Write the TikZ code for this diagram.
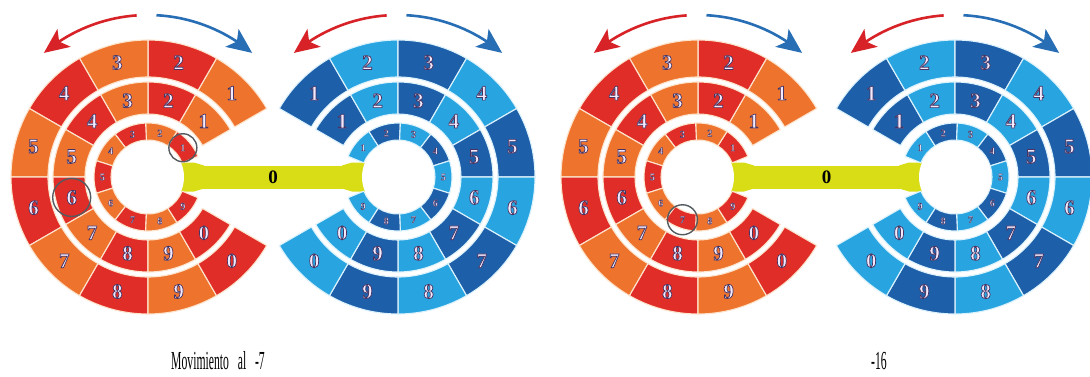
\documentclass[tikz,border=0pt]{standalone}
\usepackage{fontspec}
\setmainfont{Liberation Serif}
\newfontfamily\numfont{Liberation Serif}
\usetikzlibrary{arrows.meta,bending}
\definecolor{wred}{RGB}{225,45,40}
\definecolor{worange}{RGB}{238,115,45}
\definecolor{wdblue}{RGB}{30,95,170}
\definecolor{wlblue}{RGB}{40,165,225}
\definecolor{redline}{RGB}{253,228,205}
\definecolor{blueline}{RGB}{220,242,252}
\definecolor{numfill}{RGB}{242,234,252}
\definecolor{arrred}{RGB}{215,35,40}
\definecolor{arrblue}{RGB}{40,110,180}
\definecolor{barcol}{RGB}{216,221,22}
\definecolor{hlcol}{RGB}{85,90,95}
\newcommand\numol[1]{\special{pdf:literal direct 2 Tr 0.7 w 0.28 0.2 0.38 RG}#1\special{pdf:literal direct 0 Tr}}
\newcommand\numols[1]{\special{pdf:literal direct 2 Tr 0.35 w 0.28 0.2 0.38 RG}#1\special{pdf:literal direct 0 Tr}}
\newcommand\seg[6]{\filldraw[draw=#1, fill=#2, line width=1.1pt, line join=round]
  (#3:#5pt) arc[start angle=#3, end angle=#4, radius=#5pt] -- (#4:#6pt) arc[start angle=#4, end angle=#3, radius=#6pt] -- cycle;}
\newcommand\redwheel[3]{%
\begin{scope}[shift={(#2,#3)}]
 \foreach \k in {1,...,10}{
   \pgfmathtruncatemacro\lab{mod(\k,10)}
   \pgfmathsetmacro\angA{30*\k}
   \pgfmathsetmacro\angB{30*\k+30}
   \ifodd\k \def\col{worange}\else\def\col{wred}\fi
   \seg{redline}{\col}{\angA}{\angB}{100}{137}
   \seg{redline}{\col}{\angA}{\angB}{63}{95}
   \node[bignum] (#1-o-\lab) at ({30*\k+15}:118.5pt) {\numol{\lab}};
   \node[bignum] (#1-m-\lab) at ({30*\k+15}:79pt) {\numol{\lab}};
 }
 \foreach \k in {1,...,9}{
   \pgfmathsetmacro\angA{35*\k-12.5}
   \pgfmathsetmacro\angB{35*\k+22.5}
   \ifodd\k \def\col{wred}\else\def\col{worange}\fi
   \seg{redline}{\col}{\angA}{\angB}{37}{54}
   \node[smallnum] (#1-i-\k) at ({35*\k+5}:45.5pt) {\numols{\k}};
 }
 \fill[white] (0,0) circle (36pt);
\end{scope}}
\newcommand\bluewheel[3]{%
\begin{scope}[shift={(#2,#3)}]
 \foreach \k in {1,...,10}{
   \pgfmathtruncatemacro\lab{mod(\k,10)}
   \pgfmathsetmacro\angA{150-30*\k}
   \pgfmathsetmacro\angB{180-30*\k}
   \ifodd\k \def\col{wdblue}\else\def\col{wlblue}\fi
   \seg{blueline}{\col}{\angA}{\angB}{100}{137}
   \seg{blueline}{\col}{\angA}{\angB}{63}{95}
   \node[bignum] (#1-o-\lab) at ({165-30*\k}:118.5pt) {\numol{\lab}};
   \node[bignum] (#1-m-\lab) at ({165-30*\k}:79pt) {\numol{\lab}};
 }
 \foreach \k in {1,...,9}{
   \pgfmathsetmacro\angA{157.5-35*\k}
   \pgfmathsetmacro\angB{192.5-35*\k}
   \ifodd\k \def\col{wlblue}\else\def\col{wdblue}\fi
   \seg{blueline}{\col}{\angA}{\angB}{37}{54}
   \node[smallnum] (#1-i-\k) at ({175-35*\k}:45.5pt) {\numols{\k}};
 }
 \fill[white] (0,0) circle (36pt);
\end{scope}}
\newcommand\ybar[4]{%
 \fill[barcol] (#2+25,#4-11.5) rectangle (#3-25,#4+11.5);
 \fill[barcol] (#2+56,#4+11.5) -- (#2+46,#4+14.5) -- (#2+25,#4+14.5) -- (#2+25,#4-14.5) -- (#2+46,#4-14.5) -- (#2+56,#4-11.5) -- cycle;
 \fill[barcol] (#3-56,#4+11.5) -- (#3-46,#4+14.5) -- (#3-25,#4+14.5) -- (#3-25,#4-14.5) -- (#3-46,#4-14.5) -- (#3-56,#4-11.5) -- cycle;
 \node[barnum] (#1) at ({(#2+#3)/2},#4) {0};}
\newcommand\twoarrows[2]{%
 \draw[arrred, line width=2.6pt, -{Stealth[length=25pt,width=22pt,inset=6pt]}]
   ([shift={(94:162pt)}]#1,#2) arc[start angle=94, end angle=130, radius=162pt];
 \draw[arrblue, line width=2.6pt, -{Stealth[length=25pt,width=22pt,inset=6pt]}]
   ([shift={(87:162pt)}]#1,#2) arc[start angle=87, end angle=50, radius=162pt];}
\begin{document}
\begin{tikzpicture}[x=1pt,y=1pt,
  bignum/.style={font={\numfont\bfseries\fontsize{21}{21}\selectfont}, text=numfill, inner sep=0pt},
  smallnum/.style={font={\numfont\bfseries\fontsize{10}{10}\selectfont}, text=numfill, inner sep=0pt},
  barnum/.style={font={\numfont\bfseries\fontsize{19}{19}\selectfont}, text=black, inner sep=0pt},
  hl/.style={circle, draw=hlcol, line width=1.4pt, inner sep=0pt},
  caption/.style={font={\fontsize{26}{26}\selectfont}, text=black, inner sep=0pt}]
\useasboundingbox (0,0) rectangle (1090,376);
\fill[white] (0,0) rectangle (1090,376);
\ybar{bar1}{148}{398}{199}
\redwheel{A}{148}{199}
\bluewheel{B}{398}{199}
\ybar{bar2}{698}{955}{199}
\redwheel{C}{698}{199}
\bluewheel{D}{955}{199}
\twoarrows{148}{199}
\twoarrows{398}{199}
\twoarrows{698}{199}
\twoarrows{955}{199}
\node[hl, minimum size=28pt] (h1) at (A-i-1) {};
\node[hl, minimum size=38pt] (h2) at (A-m-6) {};
\node[hl, minimum size=30pt] (h3) at (C-i-7) {};
\node[caption] (cap1) at (218,15) {\scalebox{0.45}[1]{Movimiento\ \ \ al\ \ \ -7}};
\node[caption] (cap2) at (879,15) {\scalebox{0.45}[1]{-16}};
\end{tikzpicture}
\end{document}
